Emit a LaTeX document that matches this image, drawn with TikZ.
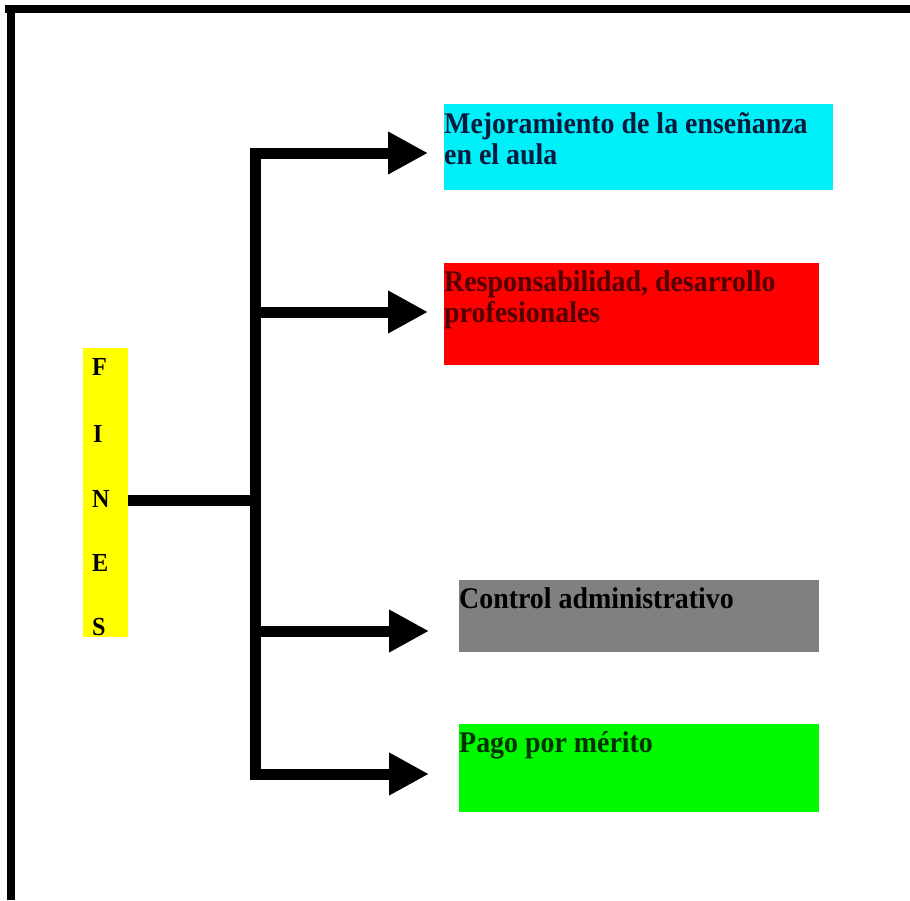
\documentclass[tikz,border=0pt]{standalone}
\usepackage{fontspec}
\setmainfont[FakeStretch=0.93]{Liberation Serif}
\usetikzlibrary{arrows.meta}
\definecolor{cyanbox}{RGB}{0,240,250}
\definecolor{redbox}{RGB}{255,0,0}
\definecolor{graybox}{RGB}{128,128,128}
\definecolor{greenbox}{RGB}{0,250,0}
\definecolor{yelbox}{RGB}{255,255,0}
\definecolor{txtcyan}{RGB}{10,25,60}
\definecolor{txtred}{RGB}{80,0,0}
\definecolor{txtgreen}{RGB}{0,50,0}
\begin{document}
\begin{tikzpicture}[x=1pt,y=-1pt,
  box/.style={draw=none,inner sep=0pt,anchor=north west},
  label/.style={inner sep=0pt,anchor=base west,align=left,font=\fontsize{30}{31}\selectfont\bfseries},
  letter/.style={inner sep=0pt,anchor=base west,font=\fontsize{26}{26}\selectfont\bfseries},
  thick line/.style={line width=11pt},
  arr/.style={line width=11pt,-{Triangle[length=40pt,width=40pt]}}
]
\useasboundingbox (0,0) rectangle (910,900);
% frame
\fill[black] (5,5) rectangle (910,13);
\fill[black] (7,5) rectangle (15,900);
% FINES
\node[box,fill=yelbox,minimum width=45pt,minimum height=289pt] (fines) at (83,348) {};
\node[letter] (lF) at (92,375) {F};
\node[letter] (lI) at (93,442) {I};
\node[letter] (lN) at (92,507) {N};
\node[letter] (lE) at (92,571) {E};
\node[letter] (lS) at (92,635) {S};
% boxes
\node[box,fill=cyanbox,minimum width=389pt,minimum height=86pt] (b1) at (444,104) {};
\node[box,fill=redbox,minimum width=375pt,minimum height=102pt] (b2) at (444,263) {};
\node[box,fill=graybox,minimum width=360pt,minimum height=72pt] (b3) at (459,580) {};
\node[box,fill=greenbox,minimum width=360pt,minimum height=88pt] (b4) at (459,724) {};
\node[label,text=txtcyan] (t1) at (444,164) {Mejoramiento de la enseñanza\\en el aula};
\node[label,text=txtred] (t2) at (444,322) {Responsabilidad, desarrollo\\profesionales};
\node[label,text=black] (t3) at (459,608) {Control administrativo};
\node[label,text=txtgreen] (t4) at (459,752) {Pago por mérito};
% connectors
\coordinate (j0) at (255.5,500);
\coordinate (j1) at (255.5,153);
\coordinate (j2) at (255.5,312);
\coordinate (j3) at (255.5,631);
\coordinate (j4) at (255.5,774);
\coordinate (e1) at (428,153);
\coordinate (e2) at (428,312);
\coordinate (e3) at (429,631);
\coordinate (e4) at (429,774);
\draw[thick line] (fines.east |- j0) -- ([xshift=5.5pt]j0);
\draw[thick line] ([yshift=-5.5pt]j1) -- ([yshift=5.5pt]j4);
\draw[arr] ([xshift=-5.5pt]j1) -- (e1);
\draw[arr] (j2) -- (e2);
\draw[arr] (j3) -- (e3);
\draw[arr] ([xshift=-5.5pt]j4) -- (e4);
\end{tikzpicture}
\end{document}
